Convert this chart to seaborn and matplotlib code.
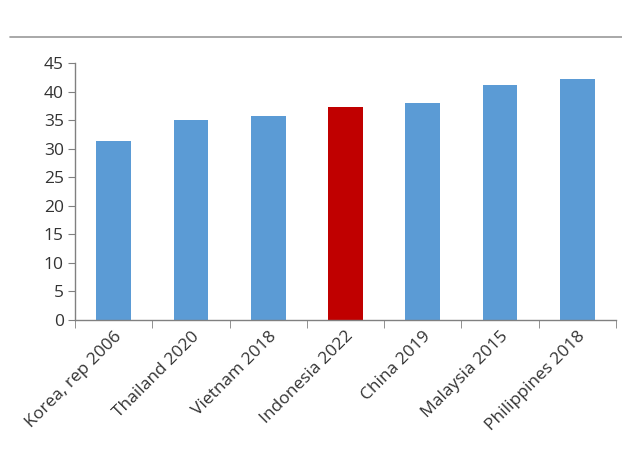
import numpy as np
import pandas as pd
import matplotlib
matplotlib.use("Agg")
import matplotlib.pyplot as plt
import seaborn as sns

countries = ["Korea, rep 2006", "Thailand 2020", "Vietnam 2018", "Indonesia 2022",
             "China 2019", "Malaysia 2015", "Philippines 2018"]
values = [31.3, 35.0, 35.7, 37.4, 38.1, 41.1, 42.3]
highlight = "Indonesia 2022"

df = pd.DataFrame({"country": countries, "value": values})
palette = {c: ("#c00000" if c == highlight else "#5b9bd5") for c in countries}

sns.set_style("white")
plt.rcParams["font.family"] = ["Open Sans", "DejaVu Sans"]

fig = plt.figure(figsize=(6.22, 4.51), dpi=100)
ax = fig.add_axes([0.1206, 0.2905, 0.8694, 0.5695])

sns.barplot(data=df, x="country", y="value", hue="country", palette=palette,
            width=0.45, legend=False, ax=ax, saturation=1, linewidth=0)

ax.set_ylim(0, 45)
ax.set_xlim(-0.5, len(countries) - 0.5)
ax.set_yticks(np.arange(0, 46, 5))
ax.set_xlabel("")
ax.set_ylabel("")

for s in ["top", "right"]:
    ax.spines[s].set_visible(False)
for s in ["left", "bottom"]:
    ax.spines[s].set_color("#808080")
    ax.spines[s].set_linewidth(1)

ax.tick_params(axis="y", left=True, length=5, color="#808080", labelsize=12.5,
               labelcolor="#333333", pad=3)
ax.set_xticks(np.arange(-0.5, len(countries), 1), minor=True)
ax.tick_params(axis="x", which="major", length=0, labelsize=12.5, labelcolor="#333333", pad=6)
ax.tick_params(axis="x", which="minor", bottom=True, length=6, color="#808080")
plt.setp(ax.get_xticklabels(), rotation=45, ha="right", rotation_mode="anchor")

fig.add_artist(plt.Line2D([0.016, 1.0], [0.918, 0.918], color="#999999", linewidth=1.2))

fig.savefig("out.png", dpi=100)
